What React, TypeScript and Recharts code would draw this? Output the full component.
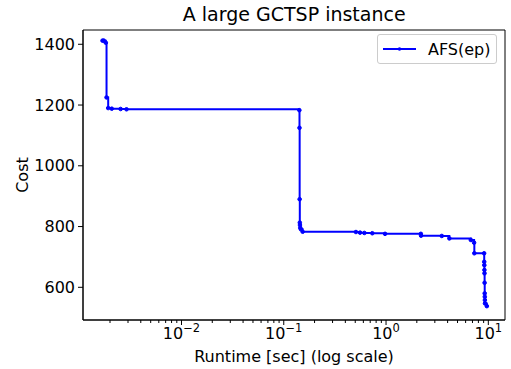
import React from 'react';
import { LineChart, Line, XAxis, YAxis, Legend, ReferenceArea } from 'recharts';

// runtime (sec) and cost, in order of the search
const runtimes = [
  0.00169, 0.00174, 0.00182, 0.00185, 0.00192, 0.00208, 0.00254, 0.0029,
  0.142, 0.1425, 0.143, 0.1435, 0.144, 0.145, 0.147, 0.153,
  0.508, 0.557, 0.614, 0.734, 0.978, 2.19, 2.2, 3.51, 4.16, 6.74, 7.26, 7.3,
  9.1, 9.12, 9.14, 9.16, 9.18, 9.2, 9.22, 9.24, 9.26, 9.28, 9.67,
];
const costs = [
  1412, 1412, 1405, 1225, 1190, 1188, 1187, 1186,
  1183, 1125, 890, 813, 805, 796, 791, 783,
  782, 780, 779, 778, 776, 776, 770, 769, 761, 756, 747, 712,
  712, 684, 673, 657, 646, 615, 580, 569, 558, 547, 538,
];

const majorTicks = [0.01, 0.1, 1, 10];
const minorTicks = [
  0.002, 0.003, 0.004, 0.005, 0.006, 0.007, 0.008, 0.009,
  0.02, 0.03, 0.04, 0.05, 0.06, 0.07, 0.08, 0.09,
  0.2, 0.3, 0.4, 0.5, 0.6, 0.7, 0.8, 0.9,
  2, 3, 4, 5, 6, 7, 8, 9,
];
const costTicks = [600, 800, 1000, 1200, 1400];

const xDomain = [0.001089, 14.56];
const yDomain = [492.4, 1447];

const title = 'A large GCTSP instance';
const seriesName = 'AFS(ep)';
const BLUE = '#0000ff';
const FONT = '"DejaVu Sans", sans-serif';

const data = runtimes.map((t, i) => ({ runtime: t, cost: costs[i] }));

const LogTick = ({ x, y, payload }: any) => {
  const v = payload.value;
  const exp = Math.round(Math.log10(v));
  const isMajor = Math.abs(v / Math.pow(10, exp) - 1) < 1e-6;
  return (
    <g>
      <line x1={x} x2={x} y1={y} y2={y + (isMajor ? 5 : 3)} stroke="#000" strokeWidth={1} />
      {isMajor && (
        <text x={x} y={y + 18.5} textAnchor="middle" fontSize={16} fill="#000" fontFamily={FONT}>
          10
          <tspan dy={-6.5} fontSize={11.5}>{exp < 0 ? '\u2212' + -exp : String(exp)}</tspan>
        </text>
      )}
    </g>
  );
};

const renderCostLabel = (props: any) => {
  const vb = props.viewBox;
  const cx = vb.x + 28;
  const cy = vb.y + vb.height / 2;
  return (
    <text x={cx} y={cy} transform={`rotate(-90, ${cx}, ${cy})`} textAnchor="middle" fontSize={16} fill="#000" fontFamily={FONT}>
      Cost
    </text>
  );
};

const LegendBox = () => (
  <div
    style={{
      border: '1px solid #cccccc',
      borderRadius: 3,
      background: 'rgba(255,255,255,0.8)',
      width: 118,
      height: 28,
      display: 'flex',
      alignItems: 'center',
      fontFamily: FONT,
      fontSize: 16,
      color: '#000',
    }}
  >
    <svg width={50} height={28} style={{ marginLeft: 5 }}>
      <line x1={0} x2={33} y1={14} y2={14} stroke={BLUE} strokeWidth={2} />
      <circle cx={16.5} cy={14} r={1.8} fill={BLUE} />
    </svg>
    <span style={{ marginLeft: -5 }}>{seriesName}</span>
  </div>
);

export default function App() {
  return (
    <div style={{ position: 'absolute', left: 0, top: 0, width: 511, height: 369, background: '#fff', fontFamily: FONT }}>
      <svg width={511} height={30} style={{ position: 'absolute', left: 0, top: 0 }}>
        <text x={294.2} y={20.7} textAnchor="middle" fontSize={19} fill="#000" fontFamily={FONT}>
          {title}
        </text>
      </svg>
      <LineChart width={511} height={369} data={data} margin={{ top: 30, right: 6, bottom: 0, left: 0 }}>
        <XAxis
          dataKey="runtime"
          type="number"
          scale="log"
          domain={xDomain}
          allowDataOverflow
          ticks={[...minorTicks, ...majorTicks].sort((a, b) => a - b)}
          interval={0}
          tick={<LogTick />}
          tickLine={false}
          tickSize={0}
          tickMargin={0}
          height={49}
          axisLine={{ stroke: '#000', strokeWidth: 1 }}
          label={{ value: 'Runtime [sec] (log scale)', position: 'insideBottom', offset: 7.3, fontSize: 16, fill: '#000', fontFamily: FONT }}
        />
        <YAxis
          type="number"
          domain={yDomain}
          allowDataOverflow
          ticks={costTicks}
          interval={0}
          width={83}
          tickSize={5}
          tickMargin={3}
          tick={{ fontSize: 16, fill: '#000', fontFamily: FONT }}
          tickLine={{ stroke: '#000', strokeWidth: 1 }}
          axisLine={{ stroke: '#000', strokeWidth: 1 }}
          label={renderCostLabel}
        />
        {/* plot frame (top and right spines) */}
        <ReferenceArea
          x1={xDomain[0]}
          x2={xDomain[1]}
          y1={yDomain[0]}
          y2={yDomain[1]}
          fill="none"
          fillOpacity={0}
          stroke="#000"
          strokeWidth={1}
          strokeOpacity={1}
        />
        <Legend
          layout="vertical"
          align="center"
          verticalAlign="middle"
          wrapperStyle={{ left: 377, top: 34, width: 120 }}
          content={<LegendBox />}
        />
        <Line
          type="stepAfter"
          dataKey="cost"
          name={seriesName}
          stroke={BLUE}
          strokeWidth={2}
          dot={{ r: 1.8, fill: BLUE, stroke: BLUE, strokeWidth: 1 }}
          activeDot={false}
          isAnimationActive={false}
        />
      </LineChart>
    </div>
  );
}
